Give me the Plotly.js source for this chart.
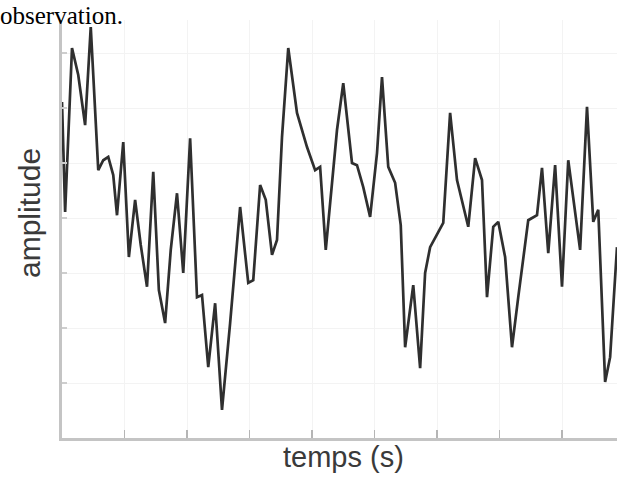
<!DOCTYPE html>
<html>
<head>
<meta charset="utf-8">
<script src="https://cdn.plot.ly/plotly-3.0.1.min.js"></script>
<style>
  html, body { margin: 0; padding: 0; background: #fff; }
  #chart { width: 619px; height: 477px; }
</style>
</head>
<body>
<div id="chart"></div>
<script>
// Signal (time in s, amplitude in arbitrary units)
const time = [0, 0.05, 0.16, 0.26, 0.37, 0.46, 0.58, 0.66, 0.74, 0.82,
  0.88, 0.98, 1.07, 1.17, 1.26, 1.36, 1.46, 1.55, 1.65, 1.74,
  1.84, 1.94, 2.05, 2.16, 2.24, 2.34, 2.45, 2.56, 2.69, 2.85,
  2.98, 3.06, 3.17, 3.26, 3.36, 3.44, 3.52, 3.62, 3.76, 3.92,
  4.05, 4.13, 4.22, 4.40, 4.50, 4.64, 4.72, 4.82, 4.93, 5.04,
  5.12, 5.22, 5.33, 5.42, 5.49, 5.62, 5.73, 5.81, 5.89, 6.10,
  6.21, 6.32, 6.50, 6.61, 6.72, 6.80, 6.90, 6.98, 7.09, 7.20,
  7.30, 7.46, 7.60, 7.68, 7.78, 7.89, 8.00, 8.10, 8.29, 8.40,
  8.50, 8.58, 8.69, 8.77, 8.88];
const amplitude = [6.11, 4.11, 7.09, 6.60, 5.69, 7.47, 4.87, 5.05, 5.11, 4.78,
  4.05, 5.38, 3.29, 4.33, 3.51, 2.75, 4.84, 2.69, 2.09, 3.42,
  4.45, 3.00, 5.45, 2.56, 2.60, 1.29, 2.45, 0.51, 2.09, 4.20,
  2.82, 2.87, 4.60, 4.33, 3.33, 3.60, 5.47, 7.09, 5.91, 5.29,
  4.87, 4.93, 3.42, 5.60, 6.45, 5.00, 4.96, 4.56, 4.02, 5.18,
  6.56, 4.93, 4.64, 3.87, 1.65, 2.78, 1.27, 3.00, 3.47, 3.91,
  5.91, 4.69, 3.84, 5.09, 4.69, 2.56, 3.84, 3.93, 3.29, 1.65,
  2.56, 3.96, 4.05, 4.91, 3.36, 4.96, 2.75, 5.05, 3.42, 6.02,
  3.93, 4.15, 1.02, 1.47, 3.47];

const captionText = 'observation.';
const xTitle = 'temps (s)';
const yTitle = 'amplitude';

const trace = {
  x: time,
  y: amplitude,
  type: 'scatter',
  mode: 'lines',
  line: { color: '#2f2f2f', width: 2.7 },
  hoverinfo: 'skip'
};

const W = 619, H = 477;
const m = { l: 62, r: 2, t: 20, b: 39 };
const pw = W - m.l - m.r, ph = H - m.t - m.b;

const layout = {
  width: W,
  height: H,
  margin: m,
  paper_bgcolor: '#ffffff',
  plot_bgcolor: '#ffffff',
  showlegend: false,
  title: {
    text: captionText,
    font: { family: 'Liberation Serif, Times New Roman, serif', size: 25, color: '#000' },
    x: 0, xref: 'container', xanchor: 'left',
    y: 0.968, yref: 'container', yanchor: 'middle'
  },
  xaxis: {
    range: [0, 8.88],
    dtick: 1,
    tick0: 0,
    showticklabels: false,
    ticks: 'inside',
    ticklen: 8,
    tickwidth: 1.5,
    tickcolor: '#b5b5b5',
    showline: true,
    linecolor: '#c4c4c4',
    linewidth: 3,
    showgrid: true,
    gridcolor: '#f3f3f3',
    gridwidth: 1,
    zeroline: false,
    fixedrange: true
  },
  yaxis: {
    range: [0, 7.6],
    dtick: 1,
    tick0: 0,
    showticklabels: false,
    ticks: 'inside',
    ticklen: 5,
    tickwidth: 1.5,
    tickcolor: '#cdcdcd',
    showline: true,
    linecolor: '#c4c4c4',
    linewidth: 3,
    showgrid: true,
    gridcolor: '#f3f3f3',
    gridwidth: 1,
    zeroline: false,
    fixedrange: true
  },
  annotations: [
    {
      text: xTitle,
      xref: 'paper', yref: 'paper',
      x: (343 - m.l) / pw, y: (438 - 457) / ph,
      xanchor: 'center', yanchor: 'middle',
      showarrow: false,
      font: { family: 'Liberation Sans, Arial, sans-serif', size: 29, color: '#3a3a3a' }
    },
    {
      text: yTitle,
      xref: 'paper', yref: 'paper',
      x: (29 - m.l) / pw, y: (438 - 213) / ph,
      xanchor: 'center', yanchor: 'middle',
      textangle: -90,
      showarrow: false,
      font: { family: 'Liberation Sans, Arial, sans-serif', size: 30, color: '#3a3a3a' }
    }
  ]
};

Plotly.newPlot('chart', [trace], layout, { staticPlot: true, displayModeBar: false });
</script>
</body>
</html>
